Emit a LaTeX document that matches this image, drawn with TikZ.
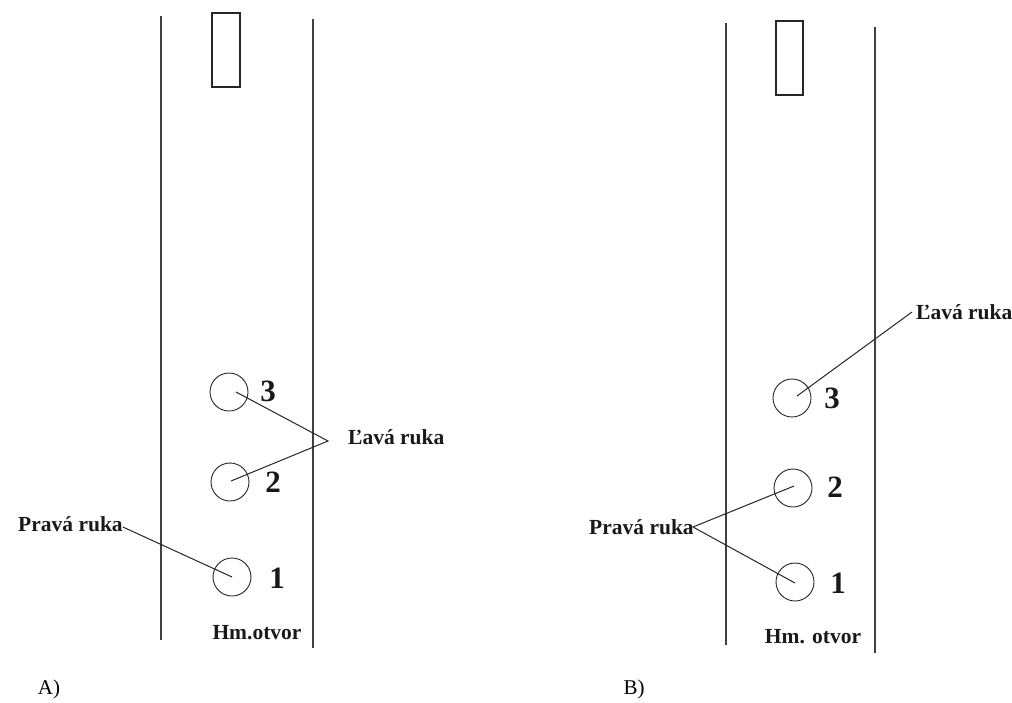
\documentclass[tikz,border=0pt]{standalone}
\usepackage{fontspec}
\setmainfont{Liberation Serif}
\usetikzlibrary{calc}
\begin{document}
\begin{tikzpicture}[x=1pt,y=-1pt,
  wall/.style={draw=black!75,line width=1.3pt},
  slot/.style={draw=black!85,line width=1.4pt},
  hole/.style={circle,draw=black!85,line width=0.9pt,minimum size=38pt,inner sep=0pt},
  lead/.style={draw=black!85,line width=1pt},
  lbl/.style={font=\bfseries\fontsize{21.5}{25}\selectfont,inner sep=0pt,text=black!90},
  num/.style={font=\bfseries\fontsize{31}{35}\selectfont,inner sep=0pt,text=black!90},
  panelcap/.style={font=\fontsize{21}{25}\selectfont,inner sep=0pt}]
\useasboundingbox (0,0) rectangle (1012,702);
\fill[white] (0,0) rectangle (1012,702);
% ---- Panel A ----
\coordinate (a1t) at (161,16); \coordinate (a1b) at (161,640);
\coordinate (a2t) at (313,19); \coordinate (a2b) at (313,648);
\draw[wall] (a1t) -- (a1b);
\draw[wall] (a2t) -- (a2b);
\draw[slot] (212,13) rectangle (240,87);
\node[hole] (ac3) at (229,392) {};
\node[hole] (ac2) at (230,482) {};
\node[hole] (ac1) at (232,577) {};
\node[num] (an3) at (268,391) {3};
\node[num] (an2) at (273,482) {2};
\node[num] (an1) at (277,578) {1};
\node[lbl,anchor=west] (alava) at (348,437) {Ľavá ruka};
\coordinate (aj) at (328,441);
\draw[lead] ($(ac3.center)+(7,0)$) -- (aj) -- ($(ac2.center)+(1,-1)$);
\node[lbl,anchor=west] (aprava) at (18,524) {Pravá ruka};
\draw[lead] ($(aprava.east)+(0,3)$) -- (ac1.center);
\node[lbl] (ahm) at (257,633) {Hm.otvor};
\node[panelcap] (acap) at (49,689) {A)};
% ---- Panel B ----
\coordinate (b1t) at (726,23); \coordinate (b1b) at (726,645);
\coordinate (b2t) at (875,27); \coordinate (b2b) at (875,653);
\draw[wall] (b1t) -- (b1b);
\draw[wall] (b2t) -- (b2b);
\draw[slot] (776,21) rectangle (803,95);
\node[hole] (bc3) at (792,398) {};
\node[hole] (bc2) at (793,488) {};
\node[hole] (bc1) at (795,582) {};
\node[num] (bn3) at (832,398) {3};
\node[num] (bn2) at (835,487) {2};
\node[num] (bn1) at (838,583) {1};
\node[lbl,anchor=west] (blava) at (916,312) {Ľavá ruka};
\coordinate (bl) at (912,312);
\draw[lead] (bl) -- ($(bc3.center)+(5,-2)$);
\node[lbl,anchor=west] (bprava) at (589,527) {Pravá ruka};
\coordinate (bj) at (693,527);
\draw[lead] ($(bc2.center)+(1,-2)$) -- (bj) -- ($(bc1.center)+(0,1)$);
\node[lbl] (bhm) at (813,637) {Hm. otvor};
\node[panelcap] (bcap) at (634,689) {B)};
\end{tikzpicture}
\end{document}
